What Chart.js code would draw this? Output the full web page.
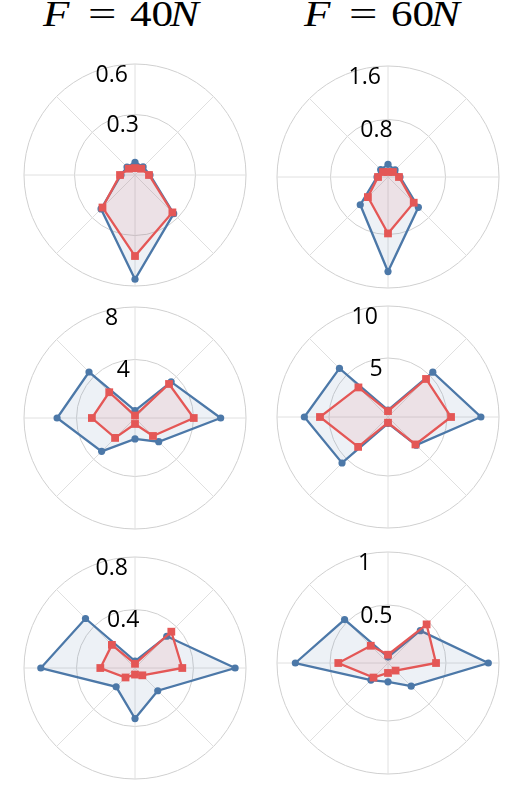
<!DOCTYPE html>
<html>
<head>
<meta charset="utf-8">
<script src="https://cdn.jsdelivr.net/npm/chart.js@4.4.1/dist/chart.umd.min.js"></script>
<style>
  body { margin: 0; background: #fff; width: 513px; height: 801px; position: relative; overflow: hidden; }
  .t { position: absolute; font-family: "Liberation Serif", serif; font-size: 36px; line-height: 36px; color: #000; white-space: nowrap; transform: scaleX(1.2); transform-origin: left top; }
  .t.eq { transform: scaleX(1.4); }
  .t i { font-style: italic; }
  canvas { position: absolute; }
</style>
</head>
<body>
<span class="t" style="left:43px;top:-4px"><i>F</i></span>
<span class="t eq" style="left:88px;top:-4px">=</span>
<span class="t" style="left:130px;top:-4px">40</span>
<span class="t" style="left:170px;top:-4px"><i>N</i></span>

<span class="t" style="left:304px;top:-4px"><i>F</i></span>
<span class="t eq" style="left:349px;top:-4px">=</span>
<span class="t" style="left:391px;top:-4px">60</span>
<span class="t" style="left:431px;top:-4px"><i>N</i></span>

<canvas id="p0" width="230" height="230" style="left:20px;top:60px"></canvas>
<canvas id="p1" width="230" height="230" style="left:273px;top:62px"></canvas>
<canvas id="p2" width="230" height="230" style="left:20px;top:303px"></canvas>
<canvas id="p3" width="230" height="230" style="left:273px;top:302px"></canvas>
<canvas id="p4" width="230" height="230" style="left:20px;top:553px"></canvas>
<canvas id="p5" width="230" height="230" style="left:273px;top:548px"></canvas>

<script>
// 8 spokes, clockwise from the top
const spokes = ["", "", "", "", "", "", "", ""];

// radial range of each panel (left column F=40N, right column F=60N)
const axisMin = [-0.059, -0.06, -0.455, -0.67, -0.045, -0.047];
const axisMax = [0.6, 1.6, 8, 10, 0.8, 1];
const tickValues = [[0.3, 0.6], [0.8, 1.6], [4, 8], [5, 10], [0.4, 0.8], [0.5, 1]];
const tickText = [["0.3", "0.6"], ["0.8", "1.6"], ["4", "8"], ["5", "10"], ["0.4", "0.8"], ["0.5", "1"]];

// blue series (circles)
const blue = [
  [0.016, 0.009, 0.03, 0.266, 0.56, 0.226, 0.024, 0.008],
  [0.129, 0.089, 0.119, 0.582, 1.354, 0.527, 0.104, 0.095],
  [0.11, 3.44, 6.07, 2.1, 1.14, 3.14, 5.48, 4.5],
  [0, 5.42, 8.26, 3.16, -0.05, 5.58, 7.37, 5.93],
  [0.008, 0.297, 0.717, 0.2, 0.34, 0.158, 0.672, 0.488],
  [0.009, 0.384, 0.899, 0.262, 0.131, 0.181, 0.827, 0.532],
];

// red series (squares)
const red = [
  [-0.018, -0.006, 0.024, 0.255, 0.422, 0.214, 0.03, -0.006],
  [0.015, 0.045, 0.104, 0.484, 0.784, 0.365, 0.089, 0.045],
  [-0.27, 3.21, 4.02, 1.48, 0, 1.69, 2.83, 2.32],
  [-0.1, 4.5, 5.39, 3.06, -0.12, 3.39, 5.87, 3.35],
  [-0.013, 0.346, 0.315, 0.034, 0.005, 0.057, 0.219, 0.204],
  [0.031, 0.468, 0.406, 0.054, 0.047, 0.147, 0.422, 0.183],
];

const BLUE = "#4c78a8";
const RED = "#e45756";

// radial tick labels, drawn a little inside each circle, left of the top spoke
const tickLabelPlugin = {
  id: "tickLabels",
  beforeDatasetsDraw(chart) {
    const s = chart.scales.r;
    const i = chart.options.panelIndex;
    const ctx = chart.ctx;
    ctx.save();
    ctx.font = '23px "Open Sans"';
    ctx.fillStyle = "#000";
    ctx.textAlign = "center";
    ctx.textBaseline = "alphabetic";
    tickValues[i].forEach((v, k) => {
      const r = s.getDistanceFromCenterForValue(v);
      ctx.fillText(tickText[i][k], s.xCenter - 0.22 * (r - 5), s.yCenter - r + 17.5);
    });
    ctx.restore();
  },
};

function makePanel(i) {
  const ctx = document.getElementById("p" + i).getContext("2d");
  new Chart(ctx, {
    type: "radar",
    data: {
      labels: spokes,
      datasets: [
        {
          data: red[i],
          borderColor: RED,
          backgroundColor: "rgba(228,87,86,0.10)",
          borderWidth: 2.3,
          fill: "start",
          pointStyle: "rect",
          pointRadius: 5.5,
          pointBackgroundColor: RED,
          pointBorderWidth: 0,
        },
        {
          data: blue[i],
          borderColor: BLUE,
          backgroundColor: "rgba(76,120,168,0.10)",
          borderWidth: 2.3,
          fill: "start",
          pointStyle: "circle",
          pointRadius: 3.6,
          pointBackgroundColor: BLUE,
          pointBorderWidth: 0,
        },
      ],
    },
    options: {
      panelIndex: i,
      responsive: false,
      animation: false,
      layout: { padding: 4 },
      elements: { line: { tension: 0 } },
      plugins: { legend: { display: false }, tooltip: { enabled: false } },
      scales: {
        r: {
          min: axisMin[i],
          max: axisMax[i],
          afterBuildTicks: (scale) => {
            scale.ticks = [axisMin[i]].concat(tickValues[i]).map((v) => ({ value: v }));
          },
          ticks: { display: false },
          pointLabels: { display: false },
          grid: { circular: true, color: "#d0d0d0", lineWidth: 1 },
          angleLines: { color: "#e0e0e0", lineWidth: 1 },
        },
      },
    },
    plugins: [tickLabelPlugin],
  });
}

for (let i = 0; i < 6; i++) makePanel(i);
</script>
</body>
</html>
